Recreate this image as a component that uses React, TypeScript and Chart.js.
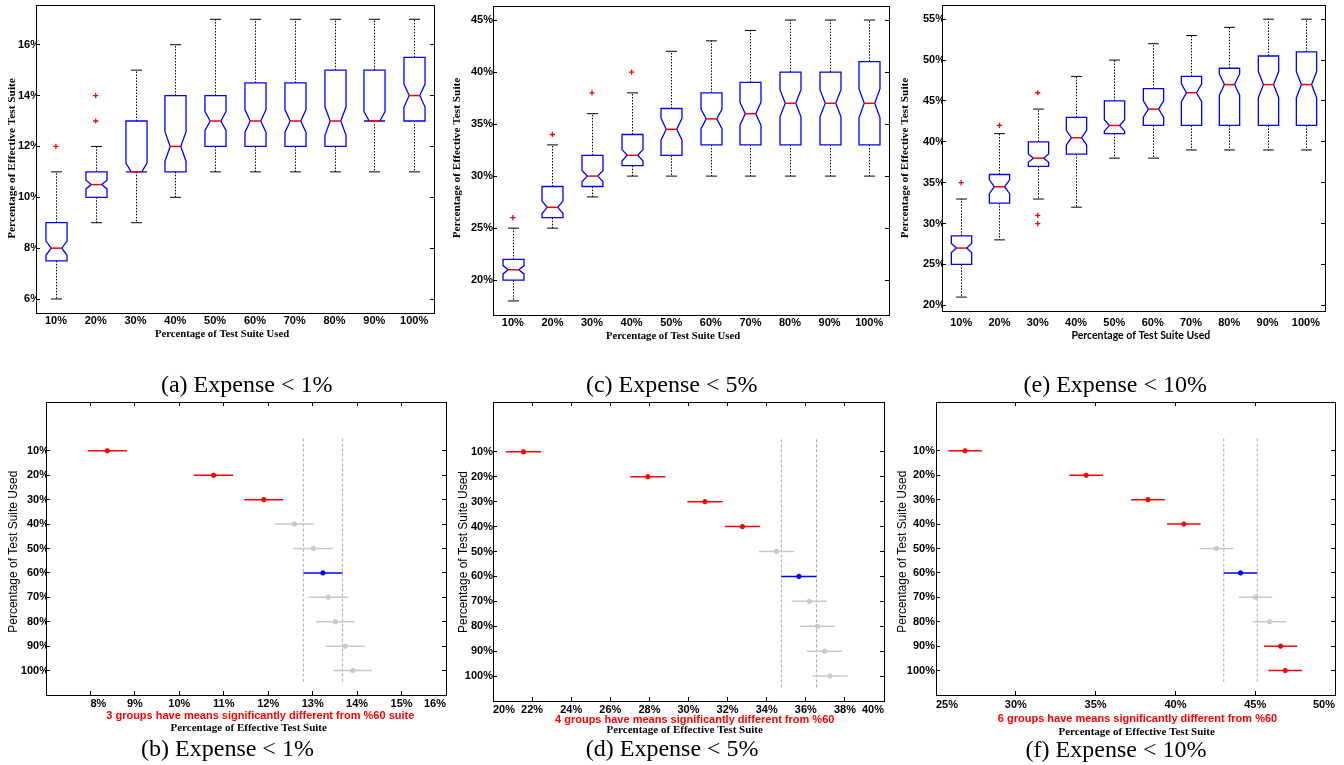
import React, { useEffect, useRef } from 'react';
import { Chart, registerables } from 'chart.js';

Chart.register(...registerables);

const PAGE_W = 1344;
const PAGE_H = 765;
const SANS = "'Liberation Sans', Arial, Helvetica, sans-serif";
const SERIF = "'Liberation Serif', 'Times New Roman', serif";

// ---------- categories ----------
const CATS = ['10%', '20%', '30%', '40%', '50%', '60%', '70%', '80%', '90%', '100%'];

// ---------- (a) Expense < 1% : notched box plot ----------
const A_Q1 = [7.5, 10, 11, 11, 12, 12, 12, 12, 13, 13];
const A_MED = [8, 10.5, 11, 12, 13, 13, 13, 13, 13, 14];
const A_Q3 = [9, 11, 13, 14, 14, 14.5, 14.5, 15, 15, 15.5];
const A_LO = [6, 9, 9, 10, 11, 11, 11, 11, 11, 11];
const A_HI = [11, 12, 15, 16, 17, 17, 17, 17, 17, 17];
const A_NOTCH = [0.28, 0.17, 0.35, 0.58, 0.37, 0.45, 0.45, 0.56, 0.37, 0.45];
const A_OUT = [[12], [13, 14], [], [], [], [], [], [], [], []];
const A_YTICKS = [6, 8, 10, 12, 14, 16];

// ---------- (c) Expense < 5% ----------
const C_Q1 = [20, 26, 29, 31, 32, 33, 33, 33, 33, 33];
const C_MED = [21, 27, 30, 32, 34.5, 35.5, 36, 37, 37, 37];
const C_Q3 = [22, 29, 32, 34, 36.5, 38, 39, 40, 40, 41];
const C_LO = [18, 25, 28, 30, 30, 30, 30, 30, 30, 30];
const C_HI = [25, 33, 36, 38, 42, 43, 44, 45, 45, 45];
const C_NOTCH = [0.4, 0.6, 0.55, 0.55, 1.05, 0.95, 1.1, 1.3, 1.3, 1.4];
const C_OUT = [[26], [34], [38], [40], [], [], [], [], [], []];
const C_YTICKS = [20, 25, 30, 35, 40, 45];

// ---------- (e) Expense < 10% ----------
const E_Q1 = [25, 32.5, 37, 38.5, 41, 42, 42, 42, 42, 42];
const E_MED = [27, 34.5, 38, 40.5, 42, 44, 46, 47, 47, 47];
const E_Q3 = [28.5, 36, 40, 43, 45, 46.5, 48, 49, 50.5, 51];
const E_LO = [21, 28, 33, 32, 38, 38, 39, 39, 39, 39];
const E_HI = [33, 41, 44, 48, 50, 52, 53, 54, 55, 55];
const E_NOTCH = [0.55, 0.85, 0.5, 0.9, 0.7, 1.0, 1.1, 1.3, 1.6, 1.6];
const E_OUT = [[35], [42], [46, 31, 30], [], [], [], [], [], [], []];
const E_YTICKS = [20, 25, 30, 35, 40, 45, 50, 55];

// ---------- (b) multiple comparison, Expense < 1% ----------
const B_MEAN = [8.38, 10.77, 11.9, 12.59, 13.01, 13.23, 13.35, 13.51, 13.73, 13.9];
const B_HALF = 0.44;
const B_GROUP = ['diff', 'diff', 'diff', 'same', 'same', 'ref', 'same', 'same', 'same', 'same'];
const B_XRANGE = [7, 16];
const B_XTICKS = [8, 9, 10, 11, 12, 13, 14, 15, 16];

// ---------- (d) multiple comparison, Expense < 5% ----------
const D_MEAN = [21.56, 27.92, 30.84, 32.76, 34.5, 35.65, 36.18, 36.6, 36.96, 37.24];
const D_HALF = 0.9;
const D_GROUP = ['diff', 'diff', 'diff', 'diff', 'same', 'ref', 'same', 'same', 'same', 'same'];
const D_XRANGE = [20, 40];
const D_XTICKS = [20, 22, 24, 26, 28, 30, 32, 34, 36, 38, 40];

// ---------- (f) multiple comparison, Expense < 10% ----------
const F_MEAN = [26.82, 34.41, 38.28, 40.53, 42.58, 44.08, 45.02, 45.9, 46.59, 46.88];
const F_HALF = 1.05;
const F_GROUP = ['diff', 'diff', 'diff', 'diff', 'same', 'ref', 'same', 'same', 'diff', 'diff'];
const F_XRANGE = [25, 50];
const F_XTICKS = [25, 30, 35, 40, 45, 50];

// ---------- styling ----------
const RED = '#ff0000';
const BLUE = '#0000ff';
const GREY = '#c8c8c8';
const AXIS_SIDE = 30;
const BOX_HALF = 0.265;
const CAP_HALF = 0.14;
const NOTCH_DEPTH = 0.5;
const TICK_FONT = { family: SANS, size: 11, weight: 'bold' as const };
const BORDER = { display: true, color: '#000', width: 1 };
const TICK_GRID = { display: true, drawOnChartArea: false, drawTicks: true, tickLength: -4, color: '#000', lineWidth: 1 };
const NO_GRID = { display: false, drawTicks: false, drawOnChartArea: false };

type Area = { l: number; t: number; r: number; b: number };
type TextItem = { text: string; x: number; y: number; font: string; color?: string; rotate?: boolean };

function fixedSize(size: number, vertical: boolean) {
  return (s: any) => {
    if (vertical) s.width = size;
    else s.height = size;
    s.paddingLeft = 0;
    s.paddingRight = 0;
    s.paddingTop = 0;
    s.paddingBottom = 0;
  };
}

function fixedTicks(values: number[]) {
  return (s: any) => {
    s.ticks = values.map((v) => ({ value: v }));
  };
}

function layoutPadding(a: Area) {
  return { left: a.l - AXIS_SIDE, top: a.t, right: PAGE_W - a.r, bottom: PAGE_H - a.b - AXIS_SIDE };
}

function textPlugin(items: TextItem[]) {
  return {
    id: 'panelTexts',
    afterDraw(chart: any) {
      const ctx = chart.ctx;
      items.forEach((t) => {
        ctx.save();
        ctx.font = t.font;
        ctx.fillStyle = t.color || '#000';
        ctx.textAlign = 'center';
        ctx.textBaseline = 'middle';
        ctx.translate(t.x, t.y);
        if (t.rotate) ctx.rotate(-Math.PI / 2);
        ctx.fillText(t.text, 0, 0);
        ctx.restore();
      });
    },
  };
}

type BoxPanel = {
  q1: number[]; med: number[]; q3: number[]; lo: number[]; hi: number[]; notch: number[]; out: number[][];
  yTicks: number[]; area: Area; yPad: number; xPad: number; texts: TextItem[];
};

function axisRange(lo: number[], hi: number[], out: number[][]) {
  const all = [...lo, ...hi, ...out.flat()];
  const mn = Math.min(...all);
  const mx = Math.max(...all);
  const pad = (mx - mn) * 0.05;
  return [mn - pad, mx + pad];
}

function notchedBoxPlugin(p: BoxPanel) {
  return {
    id: 'notchedBoxes',
    beforeDatasetsDraw(chart: any) {
      const ctx = chart.ctx;
      const xs = chart.scales.x;
      const ys = chart.scales.y;
      const step = xs.getPixelForValue(1) - xs.getPixelForValue(0);
      const half = step * BOX_HALF;
      const cap = step * CAP_HALF;
      const inner = half * NOTCH_DEPTH;
      const Y = (v: number) => ys.getPixelForValue(v);
      const seg = (x1: number, y1: number, x2: number, y2: number) => {
        ctx.beginPath();
        ctx.moveTo(x1, y1);
        ctx.lineTo(x2, y2);
        ctx.stroke();
      };
      ctx.save();
      p.med.forEach((m, i) => {
        const x = Math.round(xs.getPixelForValue(i)) + 0.5;
        // whiskers
        ctx.strokeStyle = '#000';
        ctx.lineWidth = 1;
        ctx.setLineDash([1.5, 1.5]);
        seg(x, Y(p.q3[i]), x, Y(p.hi[i]));
        seg(x, Y(p.q1[i]), x, Y(p.lo[i]));
        ctx.setLineDash([]);
        seg(x - cap, Y(p.hi[i]), x + cap, Y(p.hi[i]));
        seg(x - cap, Y(p.lo[i]), x + cap, Y(p.lo[i]));
        // notched box
        const top = Math.min(m + p.notch[i], p.q3[i]);
        const bot = Math.max(m - p.notch[i], p.q1[i]);
        ctx.strokeStyle = BLUE;
        ctx.lineWidth = 1.3;
        ctx.beginPath();
        ctx.moveTo(x - half, Y(p.q3[i]));
        ctx.lineTo(x + half, Y(p.q3[i]));
        ctx.lineTo(x + half, Y(top));
        ctx.lineTo(x + inner, Y(m));
        ctx.lineTo(x + half, Y(bot));
        ctx.lineTo(x + half, Y(p.q1[i]));
        ctx.lineTo(x - half, Y(p.q1[i]));
        ctx.lineTo(x - half, Y(bot));
        ctx.lineTo(x - inner, Y(m));
        ctx.lineTo(x - half, Y(top));
        ctx.closePath();
        ctx.stroke();
        // median
        ctx.strokeStyle = RED;
        ctx.lineWidth = 1.5;
        seg(x - inner, Y(m), x + inner, Y(m));
      });
      ctx.restore();
    },
  };
}

function boxChartConfig(p: BoxPanel): any {
  const [yMin, yMax] = axisRange(p.lo, p.hi, p.out);
  const outliers = p.out.flatMap((vals, i) => vals.map((v) => ({ x: CATS[i], y: v })));
  return {
    type: 'scatter',
    data: {
      labels: CATS,
      datasets: [
        {
          data: outliers,
          xAxisID: 'x',
          yAxisID: 'y',
          pointStyle: 'cross',
          pointRadius: 2.6,
          borderColor: RED,
          backgroundColor: RED,
          borderWidth: 1.3,
        },
      ],
    },
    options: {
      animation: false,
      responsive: false,
      events: [],
      layout: { padding: layoutPadding(p.area) },
      plugins: { legend: { display: false }, tooltip: { enabled: false } },
      scales: {
        x: {
          type: 'category', labels: CATS, offset: true, position: 'bottom',
          grid: NO_GRID, border: BORDER,
          ticks: { color: '#000', font: TICK_FONT, padding: p.xPad, maxRotation: 0, autoSkip: false },
          afterFit: fixedSize(AXIS_SIDE, false),
        },
        xTop: {
          type: 'category', labels: CATS, offset: true, position: 'top',
          grid: NO_GRID, border: BORDER, ticks: { display: false },
          afterFit: fixedSize(0, false),
        },
        y: {
          type: 'linear', position: 'left', min: yMin, max: yMax,
          grid: TICK_GRID, border: BORDER,
          ticks: { color: '#000', font: TICK_FONT, padding: p.yPad, callback: (v: number) => `${v}%` },
          afterBuildTicks: fixedTicks(p.yTicks),
          afterFit: fixedSize(AXIS_SIDE, true),
        },
        yRight: {
          type: 'linear', position: 'right', min: yMin, max: yMax,
          grid: TICK_GRID, border: BORDER, ticks: { display: false },
          afterBuildTicks: fixedTicks(p.yTicks),
          afterFit: fixedSize(0, true),
        },
      },
    },
    plugins: [notchedBoxPlugin(p), textPlugin(p.texts)],
  };
}

type CompPanel = {
  mean: number[]; half: number; group: string[]; xRange: number[]; xTicks: number[];
  area: Area; yPad: number; xPad: number; texts: TextItem[];
};

function groupColor(g: string) {
  return g === 'diff' ? RED : g === 'ref' ? BLUE : GREY;
}

function compChartConfig(p: CompPanel): any {
  const refIdx = p.group.indexOf('ref');
  const refBounds = [p.mean[refIdx] - p.half, p.mean[refIdx] + p.half];
  const colors = p.group.map(groupColor);
  const datasets: any[] = [
    {
      data: p.mean.map((m, i) => ({ x: m, y: i + 1 })),
      pointRadius: 2.2,
      pointBackgroundColor: colors,
      pointBorderColor: colors,
      pointBorderWidth: 1,
      showLine: false,
    },
    ...p.mean.map((m, i) => ({
      data: [{ x: m - p.half, y: i + 1 }, { x: m + p.half, y: i + 1 }],
      showLine: true,
      borderColor: colors[i],
      borderWidth: 1.5,
      pointRadius: 0,
    })),
    ...refBounds.map((v) => ({
      data: [{ x: v, y: 0.5 }, { x: v, y: CATS.length + 0.5 }],
      showLine: true,
      borderColor: '#a8a8a8',
      borderWidth: 1,
      borderDash: [3, 2],
      pointRadius: 0,
    })),
  ];
  datasets.forEach((d) => { d.xAxisID = 'x'; d.yAxisID = 'y'; });
  const catTicks = CATS.map((_, i) => i + 1);
  return {
    type: 'scatter',
    data: { datasets },
    options: {
      animation: false,
      responsive: false,
      events: [],
      layout: { padding: layoutPadding(p.area) },
      plugins: { legend: { display: false }, tooltip: { enabled: false } },
      scales: {
        x: {
          type: 'linear', position: 'bottom', min: p.xRange[0], max: p.xRange[1],
          grid: TICK_GRID, border: BORDER,
          ticks: { color: '#000', font: TICK_FONT, padding: p.xPad, maxRotation: 0, autoSkip: false, align: 'inner', callback: (v: number) => `${v}%` },
          afterBuildTicks: fixedTicks(p.xTicks),
          afterFit: fixedSize(AXIS_SIDE, false),
        },
        xTop: {
          type: 'linear', position: 'top', min: p.xRange[0], max: p.xRange[1],
          grid: TICK_GRID, border: BORDER, ticks: { display: false },
          afterBuildTicks: fixedTicks(p.xTicks),
          afterFit: fixedSize(0, false),
        },
        y: {
          type: 'linear', position: 'left', reverse: true, min: -1, max: CATS.length + 1,
          grid: TICK_GRID, border: BORDER,
          ticks: { color: '#000', font: TICK_FONT, padding: p.yPad, callback: (v: number) => CATS[v - 1] ?? '' },
          afterBuildTicks: fixedTicks(catTicks),
          afterFit: fixedSize(AXIS_SIDE, true),
        },
        yRight: {
          type: 'linear', position: 'right', reverse: true, min: -1, max: CATS.length + 1,
          grid: TICK_GRID, border: BORDER, ticks: { display: false },
          afterBuildTicks: fixedTicks(catTicks),
          afterFit: fixedSize(0, true),
        },
      },
    },
    plugins: [textPlugin(p.texts)],
  };
}

// ---------- panel definitions ----------
const EFFECTIVE = 'Percentage of Effective Test Suite';
const USED = 'Percentage of Test Suite Used';
const TOP_YTITLE_FONT = `bold 11.3px ${SERIF}`;
const TOP_XTITLE_FONT = `bold 10.7px ${SERIF}`;
const BOT_YTITLE_FONT = `12px ${SANS}`;
const BOT_XTITLE_FONT = `bold 11px ${SERIF}`;
const NOTE_FONT = `bold 11px ${SANS}`;

const PANEL_A: BoxPanel = {
  q1: A_Q1, med: A_MED, q3: A_Q3, lo: A_LO, hi: A_HI, notch: A_NOTCH, out: A_OUT, yTicks: A_YTICKS,
  area: { l: 36, t: 4, r: 434, b: 313 }, yPad: 0, xPad: 1.5,
  texts: [
    { text: EFFECTIVE, x: 12, y: 158.5, font: TOP_YTITLE_FONT, rotate: true },
    { text: USED, x: 222, y: 334.3, font: TOP_XTITLE_FONT },
  ],
};
const PANEL_C: BoxPanel = {
  q1: C_Q1, med: C_MED, q3: C_Q3, lo: C_LO, hi: C_HI, notch: C_NOTCH, out: C_OUT, yTicks: C_YTICKS,
  area: { l: 493, t: 6, r: 889, b: 315 }, yPad: 4, xPad: 1,
  texts: [
    { text: EFFECTIVE, x: 456.8, y: 158, font: TOP_YTITLE_FONT, rotate: true },
    { text: USED, x: 673, y: 336, font: TOP_XTITLE_FONT },
  ],
};
const PANEL_E: BoxPanel = {
  q1: E_Q1, med: E_MED, q3: E_Q3, lo: E_LO, hi: E_HI, notch: E_NOTCH, out: E_OUT, yTicks: E_YTICKS,
  area: { l: 942, t: 5, r: 1325, b: 311 }, yPad: 1, xPad: 5.5,
  texts: [
    { text: EFFECTIVE, x: 905.5, y: 158, font: TOP_YTITLE_FONT, rotate: true },
    { text: USED, x: 1140.8, y: 336, font: `bold 10.5px Lato, ${SANS}` },
  ],
};
const PANEL_B: CompPanel = {
  mean: B_MEAN, half: B_HALF, group: B_GROUP, xRange: B_XRANGE, xTicks: B_XTICKS,
  area: { l: 46, t: 402, r: 446, b: 695 }, yPad: 1, xPad: 6.7,
  texts: [
    { text: USED, x: 14, y: 551.7, font: BOT_YTITLE_FONT, rotate: true },
    { text: '3 groups have means significantly different from %60 suite', x: 260.3, y: 716.3, font: NOTE_FONT, color: RED },
    { text: EFFECTIVE, x: 248.7, y: 728.3, font: BOT_XTITLE_FONT },
  ],
};
const PANEL_D: CompPanel = {
  mean: D_MEAN, half: D_HALF, group: D_GROUP, xRange: D_XRANGE, xTicks: D_XTICKS,
  area: { l: 493, t: 402, r: 884, b: 701 }, yPad: 4, xPad: 6,
  texts: [
    { text: USED, x: 463.8, y: 552, font: BOT_YTITLE_FONT, rotate: true },
    { text: '4 groups have means significantly different from %60', x: 694.7, y: 720.3, font: NOTE_FONT, color: RED },
    { text: EFFECTIVE, x: 684.7, y: 730.3, font: BOT_XTITLE_FONT },
  ],
};
const PANEL_F: CompPanel = {
  mean: F_MEAN, half: F_HALF, group: F_GROUP, xRange: F_XRANGE, xTicks: F_XTICKS,
  area: { l: 936, t: 402, r: 1335, b: 695 }, yPad: 5, xPad: 7,
  texts: [
    { text: USED, x: 902.3, y: 551.7, font: BOT_YTITLE_FONT, rotate: true },
    { text: '6 groups have means significantly different from %60', x: 1137.5, y: 719, font: NOTE_FONT, color: RED },
    { text: EFFECTIVE, x: 1136.7, y: 732.3, font: BOT_XTITLE_FONT },
  ],
};

const CAPTIONS = [
  { text: '(a) Expense < 1%', x: 246.7, y: 392.5 },
  { text: '(c) Expense < 5%', x: 671.7, y: 392.5 },
  { text: '(e) Expense < 10%', x: 1115.3, y: 392.5 },
  { text: '(b) Expense < 1%', x: 227.5, y: 756.5 },
  { text: '(d) Expense < 5%', x: 672.2, y: 756.5 },
  { text: '(f) Expense < 10%', x: 1116, y: 757 },
];

const LAYERS: Array<() => any> = [
  () => boxChartConfig(PANEL_A),
  () => boxChartConfig(PANEL_C),
  () => boxChartConfig(PANEL_E),
  () => compChartConfig(PANEL_B),
  () => compChartConfig(PANEL_D),
  () => compChartConfig(PANEL_F),
];

function ChartLayer({ make }: { make: () => any }) {
  const ref = useRef<HTMLCanvasElement | null>(null);
  useEffect(() => {
    if (!ref.current) return;
    const chart = new Chart(ref.current, make());
    return () => chart.destroy();
  }, [make]);
  return (
    <canvas
      ref={ref}
      width={PAGE_W}
      height={PAGE_H}
      style={{ position: 'absolute', left: 0, top: 0, width: PAGE_W, height: PAGE_H }}
    />
  );
}

export default function App() {
  return (
    <div style={{ position: 'absolute', left: 0, top: 0, width: PAGE_W, height: PAGE_H, background: '#fff', overflow: 'hidden' }}>
      {LAYERS.map((make, i) => (
        <ChartLayer key={i} make={make} />
      ))}
      {CAPTIONS.map((c) => (
        <div
          key={c.text + c.x}
          style={{
            position: 'absolute',
            left: c.x - 150,
            top: c.y - 20.1,
            width: 300,
            textAlign: 'center',
            fontFamily: SERIF,
            fontSize: 24,
            lineHeight: '24px',
            whiteSpace: 'nowrap',
            color: '#000',
          }}
        >
          {c.text}
        </div>
      ))}
    </div>
  );
}
